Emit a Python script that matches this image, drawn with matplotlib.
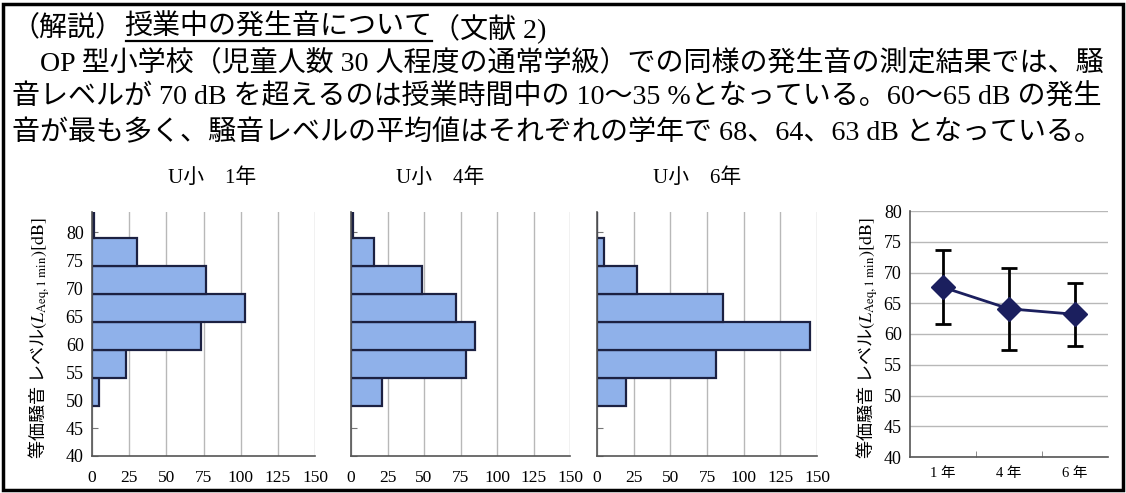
import matplotlib.pyplot as plt
from matplotlib.patches import Rectangle
from matplotlib.lines import Line2D

plt.rcParams['font.family'] = ['Liberation Serif', 'Noto Sans CJK JP']
plt.rcParams['mathtext.fontset'] = 'stix'

# 騒音レベル分布 (各 5 dB 区間の下端と度数)
bin_lo = [49, 54, 59, 64, 69, 74, 79]
grade1 = [5, 23, 73, 103, 77, 30, 1.5]
grade4 = [21.5, 78.5, 85, 72, 48.5, 15.5, 1.5]
grade6 = [20, 81, 145.5, 86, 27.5, 5, 0]
hist_titles = ['U小\u30001年', 'U小\u30004年', 'U小\u30006年']

# 学年別の平均値と標準偏差
grades = ['1 年', '4 年', '6 年']
means = [67.6, 64.1, 63.2]
sds = [6.0, 6.7, 5.1]

lines = [
    '\u3000OP 型小学校（児童人数 30 人程度の通常学級）での同様の発生音の測定結果では、騒',
    '音レベルが 70 dB を超えるのは授業時間中の 10〜35 %となっている。60〜65 dB の発生',
    '音が最も多く、騒音レベルの平均値はそれぞれの学年で 68、64、63 dB となっている。',
]
ylab = r'等価騒音 レベル$(L_{\mathrm{Aeq,1\ min}})[\mathrm{dB}]$'

W, H = 1126, 493
fig = plt.figure(figsize=(W / 100, H / 100), dpi=100)
r = fig.canvas.get_renderer()


def rect(x0, x1, ytop, ybot):
    return [x0 / W, 1 - ybot / H, (x1 - x0) / W, (ybot - ytop) / H]


# 見出しと本文
fs = 20.2
y1 = 1 - 28 / H
t1 = fig.text(12 / W, y1, '（解説）', fontsize=fs, va='center')
bb = t1.get_window_extent(r)
t2 = fig.text(bb.x1 / W, y1, '授業中の発生音について', fontsize=fs, va='center')
bb2 = t2.get_window_extent(r)
yu = 1 - 41 / H
fig.add_artist(Line2D([bb2.x0 / W + 0.002, bb2.x1 / W], [yu, yu],
                      transform=fig.transFigure, color='black', lw=1.6))
fig.text(bb2.x1 / W, y1, '（文献 2)', fontsize=fs, va='center')
for i, s in enumerate(lines):
    fig.text(12 / W, 1 - (63 + 35 * i) / H, s, fontsize=fs, va='center')

fill = '#8fb1ea'
edge = '#1c2142'
hist_x = [(92, 315), (351, 570), (597, 817)]
title_x = [212, 440, 697]
for k, counts in enumerate([grade1, grade4, grade6]):
    x0, x1 = hist_x[k]
    ax = fig.add_axes(rect(x0, x1, 212, 456))
    ax.barh(bin_lo, counts, height=5, align='edge', color=fill,
            edgecolor=edge, lw=1.6)
    ax.set_xlim(0, 150)
    ax.set_ylim(40, 83.6)
    ax.set_xticks(range(0, 151, 25))
    ax.set_yticks(range(40, 81, 5))
    ax.set_axisbelow(True)
    ax.grid(axis='x', color='#b8b8b8', lw=1)
    for sp in ['top', 'right']:
        ax.spines[sp].set_visible(False)
    for sp in ['left', 'bottom']:
        ax.spines[sp].set_color('#555555')
        ax.spines[sp].set_linewidth(1.2)
    ax.tick_params(axis='x', length=0, pad=10, labelsize=12.5)
    ax.tick_params(axis='y', direction='in', length=4, color='#777777',
                   pad=6, labelsize=13)
    if k == 0:
        ax.set_ylabel(ylab, family='Noto Sans CJK JP', fontsize=13)
        ax.yaxis.set_label_coords((52 - x0) / (x1 - x0), 0.484)
    else:
        ax.set_yticklabels([])
    fig.text(title_x[k] / W, 1 - 178 / H, hist_titles[k], fontsize=15,
             ha='center', va='center')

# 平均値と標準偏差の推移
ax4 = fig.add_axes(rect(910, 1108, 211, 457))
xs = range(len(grades))
ax4.errorbar(xs, means, yerr=sds, fmt='none', ecolor='black',
             elinewidth=2, capsize=6, capthick=2, zorder=3)
ax4.plot(xs, means, color='#1b1f5e', lw=2, marker='D', ms=12, zorder=4)
ax4.set_xlim(-0.5, 2.5)
ax4.set_ylim(40, 80)
ax4.set_yticks(range(40, 81, 5))
ax4.set_xticks(list(xs))
ax4.set_xticklabels(grades)
ax4.set_xticks([0.5, 1.5], minor=True)
ax4.grid(axis='y', color='#b8b8b8', lw=1)
ax4.set_axisbelow(True)
for sp in ['top', 'right']:
    ax4.spines[sp].set_visible(False)
for sp in ['left', 'bottom']:
    ax4.spines[sp].set_color('#555555')
    ax4.spines[sp].set_linewidth(1.2)
ax4.tick_params(axis='x', which='major', length=0, pad=7, labelsize=10.5)
ax4.tick_params(axis='x', which='minor', direction='in', length=4,
                color='#777777')
ax4.tick_params(axis='y', length=0, pad=6, labelsize=13)
ax4.set_ylabel(ylab, family='Noto Sans CJK JP', fontsize=13)
ax4.yaxis.set_label_coords((880 - 910) / 198, 0.484)

# 外枠
fig.add_artist(Rectangle((3 / W, 3 / H), 1120 / W, 486 / H,
                         transform=fig.transFigure, fill=False,
                         lw=2.5, ec='black'))

fig.savefig('out.png', dpi=100)
